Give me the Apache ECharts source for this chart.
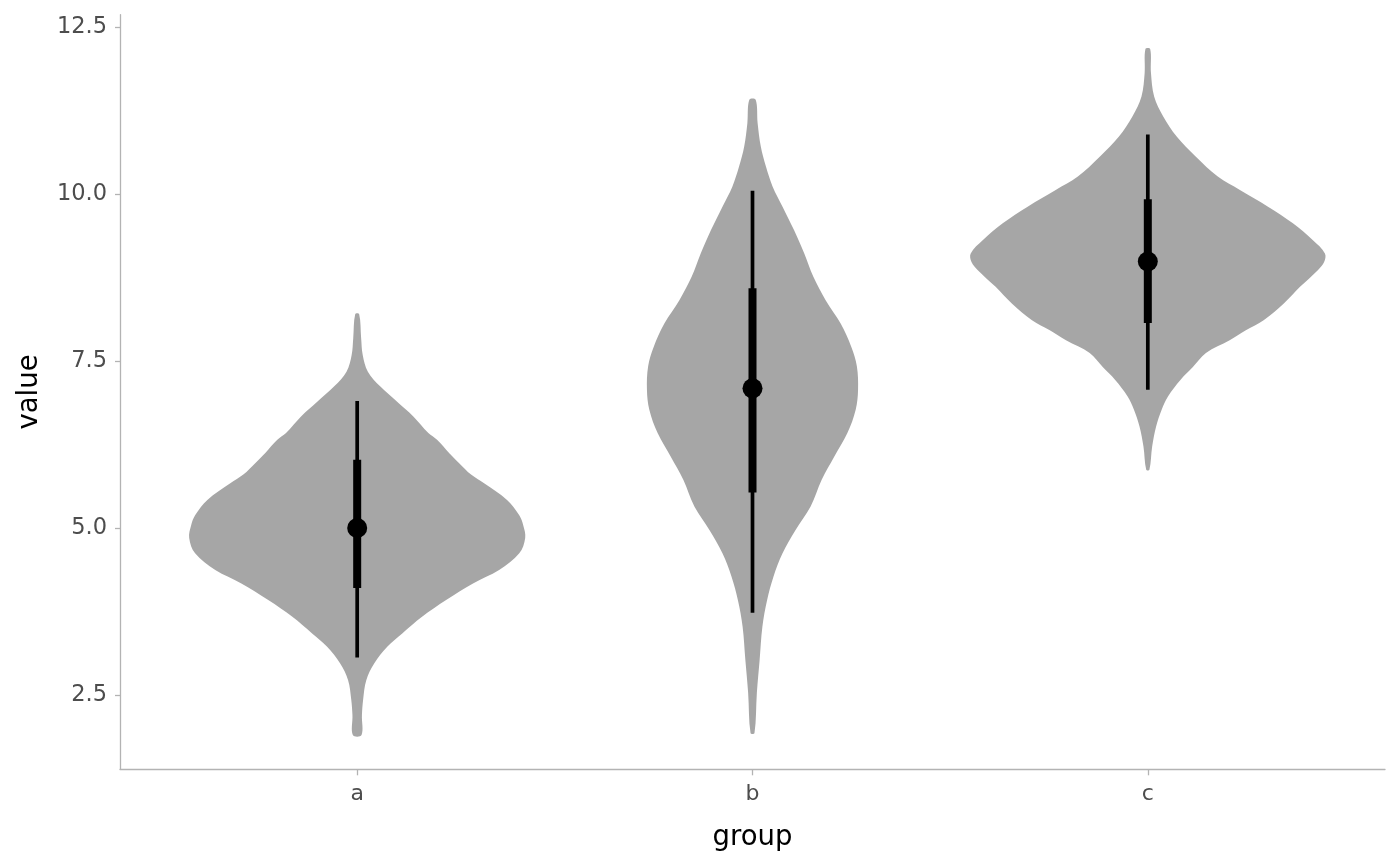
<!DOCTYPE html>
<html>
<head>
<meta charset="utf-8">
<script src="https://cdn.jsdelivr.net/npm/echarts@6/dist/echarts.min.js"></script>
<style>
html,body{margin:0;padding:0;background:#fff;}
#chart{width:1400px;height:866px;}
</style>
</head>
<body>
<div id="chart"></div>
<script>
// ---- data ----
const groups = ['a', 'b', 'c'];
// violin outlines: [value, half-width in group-axis units]
const violinA = [[8.20,0.005],[7.84,0.010],[7.59,0.014],[7.34,0.027],[7.12,0.058],[6.89,0.101],[6.67,0.142],[6.42,0.180],[6.32,0.202],[6.12,0.233],[5.97,0.258],[5.80,0.288],[5.67,0.321],[5.42,0.379],[5.19,0.410],[5.04,0.420],[4.85,0.425],[4.62,0.410],[4.37,0.359],[4.17,0.293],[3.92,0.225],[3.67,0.164],[3.42,0.114],[3.22,0.076],[2.97,0.043],[2.72,0.023],[2.43,0.015],[2.20,0.012],[1.90,0.011]];
const violinB = [[11.41,0.008],[11.06,0.013],[10.71,0.021],[10.41,0.034],[10.11,0.051],[9.81,0.076],[9.46,0.105],[9.11,0.131],[8.76,0.154],[8.41,0.185],[8.06,0.223],[7.71,0.250],[7.42,0.264],[7.07,0.267],[6.77,0.261],[6.42,0.240],[6.07,0.207],[5.72,0.175],[5.32,0.147],[4.97,0.109],[4.62,0.076],[4.27,0.053],[3.92,0.037],[3.52,0.025],[3.02,0.018],[2.53,0.011],[1.93,0.005]];
const violinC = [[12.17,0.006],[11.81,0.008],[11.46,0.016],[11.16,0.039],[10.86,0.073],[10.56,0.121],[10.26,0.177],[10.06,0.233],[9.81,0.304],[9.56,0.367],[9.31,0.417],[9.11,0.448],[8.98,0.446],[8.86,0.430],[8.61,0.385],[8.36,0.344],[8.11,0.293],[7.96,0.248],[7.81,0.207],[7.62,0.147],[7.41,0.114],[7.22,0.083],[6.97,0.051],[6.77,0.035],[6.52,0.021],[6.22,0.011],[5.87,0.004]];
const medians   = [5.00, 7.09, 8.99];
const thickLow  = [4.10, 5.53, 8.07];
const thickHigh = [6.02, 8.59, 9.92];
const thinLow   = [3.06, 3.73, 7.07];
const thinHigh  = [6.90, 10.05, 10.89];
const yTicks = [2.5, 5.0, 7.5, 10.0, 12.5];
const xTicks = [1, 2, 3];

const violins = [violinA, violinB, violinC];

const axisGrey = '#b3b3b3';
const labelGrey = '#4d4d4d';
const font = 'DejaVu Sans';

const chart = echarts.init(document.getElementById('chart'), null, {renderer: 'canvas'});

chart.setOption({
  backgroundColor: '#ffffff',
  animation: false,
  grid: {left: 120, right: 15, top: 14.7, bottom: 866 - 769.3, containLabel: false},
  xAxis: {
    type: 'value', min: 0.4, max: 3.6,
    splitLine: {show: false},
    axisLine: {onZero: false, lineStyle: {color: axisGrey, width: 1.3}},
    axisTick: {customValues: xTicks, length: 6, lineStyle: {color: axisGrey, width: 1.3}},
    axisLabel: {customValues: xTicks, formatter: v => groups[Math.round(v) - 1], color: labelGrey,
      fontFamily: font, fontSize: 22, margin: 14},
    name: 'group', nameLocation: 'middle', nameGap: 55,
    nameTextStyle: {color: '#000', fontFamily: font, fontSize: 27.5}
  },
  yAxis: {
    type: 'value', min: 1.387, max: 12.684,
    splitLine: {show: false},
    axisLine: {onZero: false, lineStyle: {color: axisGrey, width: 1.3}},
    axisTick: {customValues: yTicks, length: 5, lineStyle: {color: axisGrey, width: 1.3}},
    axisLabel: {customValues: yTicks, formatter: v => v.toFixed(1), color: labelGrey,
      fontFamily: font, fontSize: 22.5, margin: 13},
    name: 'value', nameLocation: 'middle', nameGap: 76, nameRotate: 90,
    nameTextStyle: {color: '#000', fontFamily: font, fontSize: 27.5}
  },
  series: [
    {
      type: 'custom',
      coordinateSystem: 'cartesian2d',
      data: groups.map((g, i) => [i + 1, medians[i]]),
      renderItem: function (params, api) {
        const i = params.dataIndex;
        const prof = violins[i];
        const cx = api.value(0);
        const right = prof.map(p => api.coord([cx + p[1], p[0]]));
        const left = prof.slice().reverse().map(p => api.coord([cx - p[1], p[0]]));
        return {
          type: 'polygon',
          shape: {points: right.concat(left), smooth: 0.35},
          style: {fill: '#a6a6a6', stroke: null}
        };
      },
      z: 1
    },
    {
      type: 'custom',
      coordinateSystem: 'cartesian2d',
      data: groups.map((g, i) => [i + 1, medians[i]]),
      renderItem: function (params, api) {
        const i = params.dataIndex;
        const cx = api.value(0);
        const t1 = api.coord([cx, thinHigh[i]]), t2 = api.coord([cx, thinLow[i]]);
        const k1 = api.coord([cx, thickHigh[i]]), k2 = api.coord([cx, thickLow[i]]);
        const m = api.coord([cx, medians[i]]);
        return {
          type: 'group',
          children: [
            {type: 'line', shape: {x1: t1[0], y1: t1[1], x2: t2[0], y2: t2[1]},
              style: {stroke: '#000', lineWidth: 3.7, lineCap: 'butt'}},
            {type: 'line', shape: {x1: k1[0], y1: k1[1], x2: k2[0], y2: k2[1]},
              style: {stroke: '#000', lineWidth: 8, lineCap: 'butt'}},
            {type: 'circle', shape: {cx: m[0], cy: m[1], r: 10}, style: {fill: '#000'}}
          ]
        };
      },
      z: 2
    }
  ]
});
</script>
</body>
</html>
